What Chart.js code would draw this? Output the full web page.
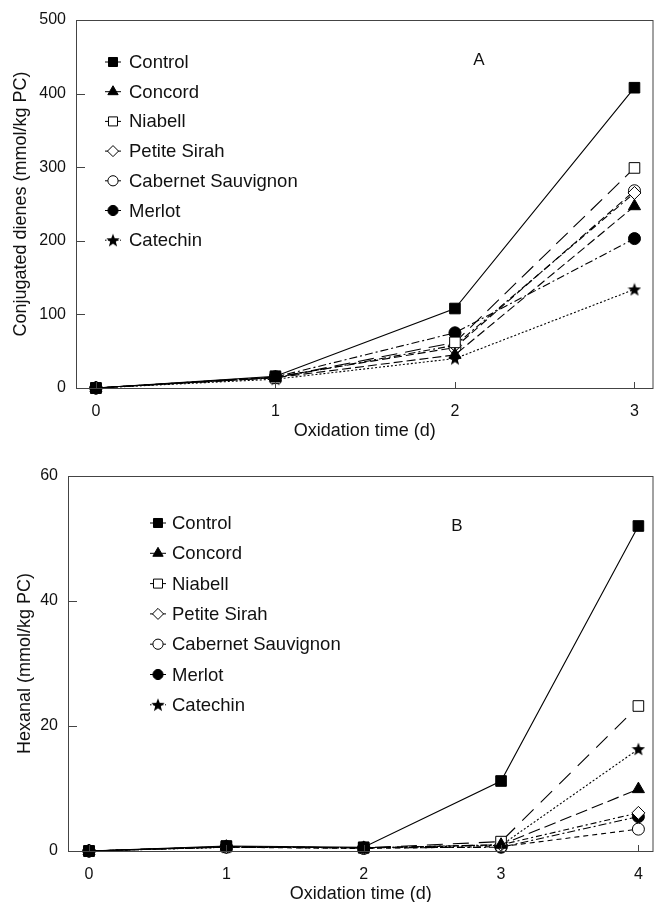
<!DOCTYPE html>
<html>
<head>
<meta charset="utf-8">
<script src="https://cdn.jsdelivr.net/npm/chart.js@4"></script>
<style>
  body { margin: 0; background: #fff; overflow: hidden; }
  #wrap { position: relative; width: 655px; height: 902px; overflow: hidden; }
  #topBox { position: absolute; left: 0; top: 0; width: 662px; height: 450px; }
  #botBox { position: absolute; left: 0; top: 450px; width: 662px; height: 452px; }
</style>
</head>
<body>
<div id="wrap">
  <div id="topBox"><canvas id="chartA" width="662" height="450"></canvas></div>
  <div id="botBox"><canvas id="chartB" width="662" height="452"></canvas></div>
</div>
<script>
/* wine extracts vs. LDL oxidation - panel A (dienes) and panel B (hexanal) */

const seriesNames = ["Control", "Concord", "Niabell", "Petite Sirah", "Cabernet Sauvignon", "Merlot", "Catechin"];

// panel A
const daysA = [0, 1, 2, 3];
const ticksA_x = [0, 1, 2, 3];
const ticksA_y = [0, 100, 200, 300, 400, 500];
const dienesControl = [0, 16, 108, 408];
const dienesConcord = [0, 14, 45, 247];
const dienesNiabell = [0, 14, 62, 299];
const dienesPetite = [0, 14, 58, 265];
const dienesCabernet = [0, 15, 55, 268];
const dienesMerlot = [0, 15, 75, 203];
const dienesCatechin = [0, 12, 40, 134];

// panel B
const daysB = [0, 1, 2, 3, 4];
const ticksB_x = [0, 1, 2, 3, 4];
const ticksB_y = [0, 20, 40, 60];
const hexControl = [0, 0.8, 0.6, 11.2, 52];
const hexConcord = [0, 0.7, 0.5, 1.0, 9.9];
const hexNiabell = [0, 0.7, 0.5, 1.5, 23.2];
const hexPetite = [0, 0.6, 0.5, 1.0, 6.1];
const hexCabernet = [0, 0.6, 0.4, 0.7, 3.5];
const hexMerlot = [0, 0.7, 0.5, 0.6, 5.5];
const hexCatechin = [0, 0.6, 0.5, 0.9, 16.3];

Chart.defaults.font.family = "'Liberation Sans', Arial, sans-serif";
Chart.defaults.font.size = 16;
Chart.defaults.color = "#111";

// filled 5 point star, used as pointStyle for Catechin
function makeStar(size) {
  const c = document.createElement("canvas");
  c.width = size;
  c.height = size;
  const g = c.getContext("2d");
  const cx = size / 2, cy = size / 2 + 0.5;
  const ro = size / 2, ri = ro * 0.42;
  g.beginPath();
  for (let i = 0; i < 10; i++) {
    const r = i % 2 === 0 ? ro : ri;
    const a = -Math.PI / 2 + i * Math.PI / 5;
    g.lineTo(cx + r * Math.cos(a), cy + r * Math.sin(a));
  }
  g.closePath();
  g.fillStyle = "#000";
  g.fill();
  return c;
}
const starImg = makeStar(14);

const markers = [
  { pointStyle: "rect", pointRadius: 7.5, fill: "#000" },
  { pointStyle: "triangle", pointRadius: 7, fill: "#000" },
  { pointStyle: "rect", pointRadius: 7.5, fill: "#fff" },
  { pointStyle: "rectRot", pointRadius: 6.5, fill: "#fff" },
  { pointStyle: "circle", pointRadius: 6, fill: "#fff" },
  { pointStyle: "circle", pointRadius: 6, fill: "#000" },
  { pointStyle: starImg, pointRadius: 7, fill: "#000" }
];

function buildSets(days, lists, dashes) {
  return lists.map((vals, i) => ({
    label: seriesNames[i],
    data: days.map((d, j) => ({ x: d, y: vals[j] })),
    borderColor: "#000",
    borderWidth: 1.1,
    borderDash: dashes[i],
    pointStyle: markers[i].pointStyle,
    pointRadius: markers[i].pointRadius,
    pointBackgroundColor: markers[i].fill,
    pointBorderColor: "#000",
    pointBorderWidth: 1,
    tension: 0,
    clip: false
  }));
}

// frame, inward ticks, legend and panel letter
const framePlugin = {
  id: "frame",
  afterDraw(chart, args, opts) {
    const ctx = chart.ctx;
    const a = chart.chartArea;
    ctx.save();
    ctx.strokeStyle = "#444";
    ctx.lineWidth = 1;
    ctx.setLineDash([]);
    ctx.strokeRect(a.left + 0.5, a.top + 0.5, a.right - a.left - 1, a.bottom - a.top);
    const xs = chart.scales.x, ys = chart.scales.y;
    xs.ticks.forEach(t => {
      const px = Math.round(xs.getPixelForValue(t.value)) + 0.5;
      ctx.beginPath();
      ctx.moveTo(px, a.bottom);
      ctx.lineTo(px, a.bottom - 6);
      ctx.stroke();
    });
    ys.ticks.forEach(t => {
      const py = Math.round(ys.getPixelForValue(t.value)) + 0.5;
      ctx.beginPath();
      ctx.moveTo(a.left, py);
      ctx.lineTo(a.left + 9, py);
      ctx.stroke();
    });

    // legend
    ctx.font = "18.5px 'Liberation Sans', Arial, sans-serif";
    ctx.textBaseline = "middle";
    ctx.textAlign = "left";
    chart.data.datasets.forEach((ds, i) => {
      const y = opts.legendY + i * opts.rowH;
      const x = opts.legendX;
      ctx.strokeStyle = "#000";
      ctx.lineWidth = 1;
      ctx.setLineDash(i === 6 ? [1.5, 1.5] : []);
      ctx.beginPath();
      ctx.moveTo(x - 8, y);
      ctx.lineTo(x + 8, y);
      ctx.stroke();
      ctx.setLineDash([]);
      ctx.fillStyle = ds.pointBackgroundColor;
      Chart.helpers.drawPoint(ctx, {
        pointStyle: ds.pointStyle,
        radius: ds.pointRadius * 0.85,
        rotation: 0,
        borderWidth: 1
      }, x, y);
      ctx.fillStyle = "#111";
      ctx.fillText(ds.label, opts.textX, y + 1);
    });

    ctx.font = "17px 'Liberation Sans', Arial, sans-serif";
    ctx.textAlign = "center";
    ctx.fillText(opts.letter, opts.letterX, opts.letterY);
    ctx.restore();
  }
};

function scalesFor(xmin, xmax, xTicks, ymax, yTicks, yTitle, yWidth, xHeight, yTitlePad, xTitlePad, xTickPad) {
  return {
    x: {
      type: "linear",
      min: xmin,
      max: xmax,
      afterBuildTicks: s => { s.ticks = xTicks.map(v => ({ value: v })); },
      afterFit: s => { s.height = xHeight; },
      grid: { display: false, drawTicks: false },
      border: { display: false },
      ticks: { padding: xTickPad, color: "#111", font: { size: 16 } },
      title: { display: true, text: "Oxidation time (d)", color: "#111", font: { size: 18 }, padding: { top: 0, bottom: xTitlePad } }
    },
    y: {
      type: "linear",
      min: 0,
      max: ymax,
      afterBuildTicks: s => { s.ticks = yTicks.map(v => ({ value: v })); },
      afterFit: s => { s.width = yWidth; },
      grid: { display: false, drawTicks: false },
      border: { display: false },
      ticks: { padding: 10, color: "#111", font: { size: 16 } },
      title: { display: true, text: yTitle, color: "#111", font: { size: 18 }, padding: { top: yTitlePad, bottom: 0 } }
    }
  };
}

const dashesA = [[], [9, 4], [16, 8], [7, 3, 2, 3], [8, 4], [8, 3, 2, 3], [2, 2]];
const dashesB = [[], [12, 5], [16, 10], [6, 3, 2, 3], [5, 4], [8, 3, 2, 3], [2, 2]];

new Chart(document.getElementById("chartA"), {
  type: "line",
  data: {
    datasets: buildSets(daysA, [dienesControl, dienesConcord, dienesNiabell, dienesPetite, dienesCabernet, dienesMerlot, dienesCatechin], dashesA)
  },
  options: {
    responsive: false,
    animation: false,
    layout: { padding: { top: 20, right: 2, left: 0, bottom: 0 } },
    scales: scalesFor(-0.111, 3.106, ticksA_x, 500, ticksA_y, "Conjugated dienes (mmol/kg PC)", 76, 62, 10, 8, 14),
    plugins: {
      legend: { display: false },
      tooltip: { enabled: false },
      frame: { legendX: 113, legendY: 62, rowH: 29.7, textX: 129, letter: "A", letterX: 479, letterY: 60 }
    }
  },
  plugins: [framePlugin]
});

new Chart(document.getElementById("chartB"), {
  type: "line",
  data: {
    datasets: buildSets(daysB, [hexControl, hexConcord, hexNiabell, hexPetite, hexCabernet, hexMerlot, hexCatechin], dashesB)
  },
  options: {
    responsive: false,
    animation: false,
    layout: { padding: { top: 26, right: 2, left: 0, bottom: 0 } },
    scales: scalesFor(-0.153, 4.11, ticksB_x, 60, ticksB_y, "Hexanal (mmol/kg PC)", 68, 51, 14, -3, 14),
    plugins: {
      legend: { display: false },
      tooltip: { enabled: false },
      frame: { legendX: 158, legendY: 73, rowH: 30.3, textX: 172, letter: "B", letterX: 457, letterY: 76 }
    }
  },
  plugins: [framePlugin]
});
</script>
</body>
</html>
